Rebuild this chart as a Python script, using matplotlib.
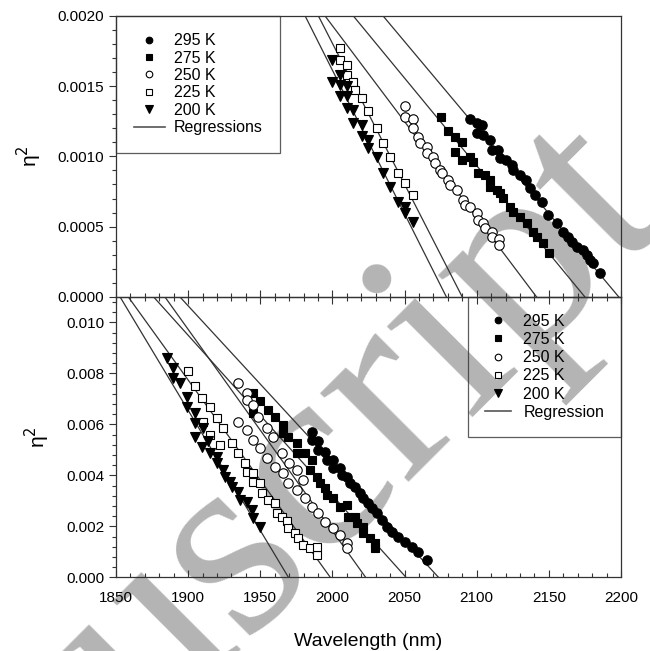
import numpy as np
import matplotlib
matplotlib.use("Agg")
import matplotlib.pyplot as plt
from matplotlib.lines import Line2D
from matplotlib.ticker import MultipleLocator, FormatStrFormatter

plt.rcParams['font.family'] = ['Liberation Sans', 'DejaVu Sans']

temps = ['295 K', '275 K', '250 K', '225 K', '200 K']

# ---- top panel data (eta^2 vs wavelength) ----
top_295_x = [2095.3, 2100.0, 2103.4, 2100.0, 2104.5, 2109.2, 2110.4, 2114.9, 2116.1, 2120.3, 2124.2, 2125.3, 2130.0, 2134.1,
             2136.9, 2140.4, 2145.0, 2149.6, 2155.4, 2160.0, 2163.4, 2165.8, 2169.3, 2173.8, 2176.2, 2178.5, 2180.8, 2185.4]
top_295_y = [0.001265, 0.001236, 0.001224, 0.001165, 0.001153, 0.001117, 0.001046, 0.001046, 0.000987, 0.000975, 0.000939,
             0.000904, 0.000868, 0.000833, 0.000774, 0.000726, 0.000678, 0.000584, 0.000524, 0.000465, 0.000429, 0.000394,
             0.000358, 0.000334, 0.000299, 0.000263, 0.000240, 0.000169]
top_275_x = [2075.0, 2080.3, 2084.9, 2089.6, 2084.9, 2089.6, 2095.3, 2097.6, 2101.1, 2105.7, 2109.2, 2109.2, 2113.8, 2116.1,
             2118.4, 2123.0, 2125.3, 2130.0, 2134.6, 2139.2, 2141.5, 2146.1, 2150.3]
top_275_y = [0.001283, 0.001177, 0.001141, 0.001105, 0.001034, 0.000975, 0.000998, 0.000963, 0.000880, 0.000868, 0.000833,
             0.000785, 0.000762, 0.000738, 0.000702, 0.000643, 0.000607, 0.000572, 0.000524, 0.000465, 0.000429, 0.000382,
             0.000315]
top_250_x = [2050.3, 2050.3, 2055.6, 2055.6, 2059.5, 2060.7, 2065.3, 2065.3, 2069.9, 2071.1, 2074.5, 2075.7, 2080.3, 2081.5,
             2086.1, 2090.7, 2091.9, 2095.3, 2100.0, 2101.1, 2104.5, 2105.7, 2110.4, 2110.4, 2115.4, 2115.4]
top_250_y = [0.001359, 0.001279, 0.001265, 0.001200, 0.001141, 0.001094, 0.001070, 0.001023, 0.000998, 0.000951, 0.000904,
             0.000880, 0.000833, 0.000797, 0.000762, 0.000690, 0.000655, 0.000643, 0.000596, 0.000548, 0.000524, 0.000489,
             0.000465, 0.000429, 0.000411, 0.000370]
top_225_x = [2005.2, 2005.2, 2009.9, 2009.9, 2014.5, 2015.6, 2020.3, 2024.8, 2030.7, 2035.2, 2039.9, 2045.6, 2050.3, 2055.6]
top_225_y = [0.001770, 0.001687, 0.001651, 0.001580, 0.001532, 0.001473, 0.001414, 0.001319, 0.001200, 0.001094, 0.000998,
             0.000880, 0.000809, 0.000726]
top_200_x = [1999.9, 2005.2, 1999.9, 2005.2, 2009.9, 2005.2, 2009.9, 2009.9, 2014.5, 2014.5, 2020.3, 2020.3, 2024.8, 2024.8,
             2030.7, 2035.2, 2039.9, 2045.6, 2050.3, 2050.3, 2055.6]
top_200_y = [0.001687, 0.001580, 0.001532, 0.001509, 0.001497, 0.001426, 0.001426, 0.001343, 0.001331, 0.001236, 0.001224,
             0.001146, 0.001117, 0.001058, 0.000998, 0.000880, 0.000785, 0.000678, 0.000643, 0.000596, 0.000536]
# regression lines: wavelength where eta^2 = 0 and slope (per nm)
top_fit_x0 = [2198.5, 2175.0, 2141.5, 2090.0, 2079.0]
top_fit_slope = [-1.223e-5, -1.245e-5, -1.363e-5, -2.004e-5, -2.041e-5]

# ---- bottom panel data ----
bot_295_x = [1985.6, 1985.6, 1990.2, 1990.2, 1994.8, 1996.0, 2000.6, 2000.6, 2005.2, 2006.4, 2009.9, 2012.2, 2015.6, 2019.1,
             2021.4, 2024.8, 2027.2, 2030.7, 2034.1, 2037.6, 2041.1, 2045.6, 2050.3, 2054.9, 2059.5, 2065.3]
bot_295_y = [0.00572, 0.00539, 0.00533, 0.00500, 0.00493, 0.00461, 0.00461, 0.00428, 0.00428, 0.00402, 0.00395, 0.00369,
             0.00356, 0.00330, 0.00310, 0.00291, 0.00271, 0.00251, 0.00225, 0.00199, 0.00179, 0.00159, 0.00140, 0.00120,
             0.00101, 0.00068]
bot_275_x = [1945.1, 1949.8, 1945.1, 1955.5, 1960.2, 1965.9, 1965.9, 1969.4, 1975.2, 1975.2, 1981.0, 1985.6, 1984.4, 1989.1,
             1991.4, 1994.8, 1996.0, 2000.6, 2005.2, 2009.9, 2011.0, 2015.6, 2016.8, 2021.4, 2021.4, 2026.0, 2029.5, 2029.5]
bot_275_y = [0.00723, 0.00690, 0.00644, 0.00657, 0.00631, 0.00598, 0.00566, 0.00552, 0.00526, 0.00487, 0.00487, 0.00461,
             0.00421, 0.00395, 0.00369, 0.00350, 0.00323, 0.00310, 0.00277, 0.00284, 0.00238, 0.00238, 0.00212, 0.00199,
             0.00173, 0.00153, 0.00134, 0.00114]
bot_250_x = [1934.7, 1940.6, 1940.6, 1945.1, 1948.6, 1954.4, 1959.0, 1964.8, 1970.0, 1975.2, 1979.8,
             1934.7, 1940.6, 1945.1, 1949.8, 1954.4, 1960.2, 1965.9, 1969.4, 1975.2, 1981.0, 1985.6, 1990.2, 1994.8,
             2000.6, 2005.2, 2009.9, 2009.9]
bot_250_y = [0.00764, 0.00725, 0.00696, 0.00677, 0.00631, 0.00585, 0.00552, 0.00487, 0.00450, 0.00421, 0.00382,
             0.00611, 0.00579, 0.00539, 0.00507, 0.00468, 0.00434, 0.00408, 0.00369, 0.00343, 0.00310, 0.00277, 0.00251,
             0.00218, 0.00192, 0.00166, 0.00134, 0.00114]
bot_225_x = [1900.1, 1904.7, 1909.8, 1910.5, 1915.1, 1915.0, 1919.8, 1924.4, 1922.1, 1930.2, 1934.8, 1939.4, 1940.6, 1945.1,
             1945.1, 1949.8, 1951.0, 1955.5, 1960.2, 1961.4, 1964.8, 1968.3, 1969.4, 1974.0, 1976.3, 1979.8, 1984.4, 1989.1,
             1989.1]
bot_225_y = [0.00808, 0.00751, 0.00705, 0.00610, 0.00670, 0.00560, 0.00624, 0.00585, 0.00520, 0.00526, 0.00487, 0.00448,
             0.00415, 0.00408, 0.00375, 0.00369, 0.00330, 0.00304, 0.00291, 0.00251, 0.00238, 0.00219, 0.00192, 0.00173,
             0.00153, 0.00127, 0.00114, 0.00088, 0.00120]
bot_200_x = [1885.1, 1889.7, 1889.7, 1894.4, 1899.0, 1899.0, 1904.7, 1904.7, 1910.5, 1904.7, 1909.4, 1913.9, 1915.1, 1919.8,
             1919.8, 1924.4, 1925.5, 1929.0, 1930.2, 1934.8, 1935.9, 1940.6, 1944.0, 1945.1, 1949.8]
bot_200_y = [0.00860, 0.00821, 0.00782, 0.00762, 0.00709, 0.00670, 0.00644, 0.00605, 0.00585, 0.00552, 0.00513, 0.00533,
             0.00487, 0.00474, 0.00448, 0.00421, 0.00395, 0.00375, 0.00356, 0.00336, 0.00304, 0.00297, 0.00264, 0.00232,
             0.00199]
bot_fit_x0 = [2073.5, 2051.0, 2023.0, 1998.5, 1969.5]
bot_fit_slope = [-6.14e-5, -6.29e-5, -7.91e-5, -7.86e-5, -9.43e-5]

# marker styles per temperature
styles = [dict(marker='o', mfc='black', ms=6.8),
          dict(marker='s', mfc='black', ms=6.1),
          dict(marker='o', mfc='white', ms=6.8),
          dict(marker='s', mfc='white', ms=6.1),
          dict(marker='v', mfc='black', ms=7.6)]

fig = plt.figure(figsize=(6.5, 6.51), dpi=100)
W, H = 650, 651
ax1 = fig.add_axes([116 / W, 1 - 297 / H, 505 / W, 281.3 / H])
ax2 = fig.add_axes([116 / W, 1 - 577.3 / H, 505 / W, 280.3 / H])

line_col = '#333333'


def draw(ax, xs, ys, x0s, slopes):
    for x, y, st in zip(xs, ys, styles):
        ax.plot(x, y, linestyle='none', mec='black', mew=0.8, zorder=3, **st)
    for x0, s in zip(x0s, slopes):
        ax.axline((x0, 0), slope=s, color=line_col, lw=0.9, zorder=2)
    ax.set_xlim(1850, 2200)
    ax.set_facecolor('none')
    for sp in ax.spines.values():
        sp.set_color(line_col)
        sp.set_linewidth(0.9)
    ax.xaxis.set_major_locator(MultipleLocator(50))
    ax.xaxis.set_minor_locator(MultipleLocator(10))
    ax.tick_params(axis='x', which='both', direction='in', colors=line_col, labelcolor='black')
    ax.tick_params(axis='y', which='both', direction='out', colors=line_col, labelcolor='black', labelsize=11)
    ax.tick_params(which='major', length=5, width=0.8)
    ax.tick_params(which='minor', length=3, width=0.8)
    ax.set_ylabel('η$^2$', fontsize=15, labelpad=10)


draw(ax1, [top_295_x, top_275_x, top_250_x, top_225_x, top_200_x],
     [top_295_y, top_275_y, top_250_y, top_225_y, top_200_y], top_fit_x0, top_fit_slope)
draw(ax2, [bot_295_x, bot_275_x, bot_250_x, bot_225_x, bot_200_x],
     [bot_295_y, bot_275_y, bot_250_y, bot_225_y, bot_200_y], bot_fit_x0, bot_fit_slope)

ax1.set_ylim(0, 0.002)
ax1.yaxis.set_major_locator(MultipleLocator(0.0005))
ax1.yaxis.set_minor_locator(MultipleLocator(0.0001))
ax1.yaxis.set_major_formatter(FormatStrFormatter('%.4f'))
ax1.tick_params(axis='x', labelbottom=False)

ax2.set_ylim(0, 0.011)
ax2.yaxis.set_major_locator(MultipleLocator(0.002))
ax2.yaxis.set_minor_locator(MultipleLocator(0.0004))
ax2.yaxis.set_major_formatter(FormatStrFormatter('%.3f'))
ax2.tick_params(axis='x', top=True, which='both', labelsize=11, pad=10)
ax2.set_xlabel('Wavelength (nm)', fontsize=14, labelpad=20)


def legend_handles(last):
    hs = [Line2D([], [], linestyle='none', mec='black', mew=0.8, **st) for st in styles]
    hs.append(Line2D([], [], color='#555555', lw=1.2))
    return hs, temps + [last]


hs, labs = legend_handles('Regressions')
leg1 = ax1.legend(hs, labs, loc='upper left', bbox_to_anchor=(0, 1), borderaxespad=0, fancybox=False,
                  edgecolor=line_col, facecolor='none', fontsize=11.5, markerscale=0.7, handlelength=1.95,
                  handletextpad=0.55, borderpad=1.1, labelspacing=0.15)
leg1.get_frame().set_linewidth(0.9)
hs, labs = legend_handles('Regression')
leg2 = ax2.legend(hs, labs, loc='upper right', bbox_to_anchor=(1, 1), borderaxespad=0, fancybox=False,
                  edgecolor=line_col, facecolor='none', fontsize=11.5, markerscale=0.7, handlelength=1.65,
                  handletextpad=0.75, borderpad=1.05, labelspacing=0.2)
leg2.get_frame().set_linewidth(0.9)

# "Accepted Manuscript" watermark, drawn behind the axes
fig.text(0.285, 0.072, 'Manuscript', fontsize=196, family='Liberation Serif', color='#b4b4b4',
         rotation=45, rotation_mode='anchor', ha='center', va='center', zorder=-1)

fig.savefig('out.png', dpi=100)
